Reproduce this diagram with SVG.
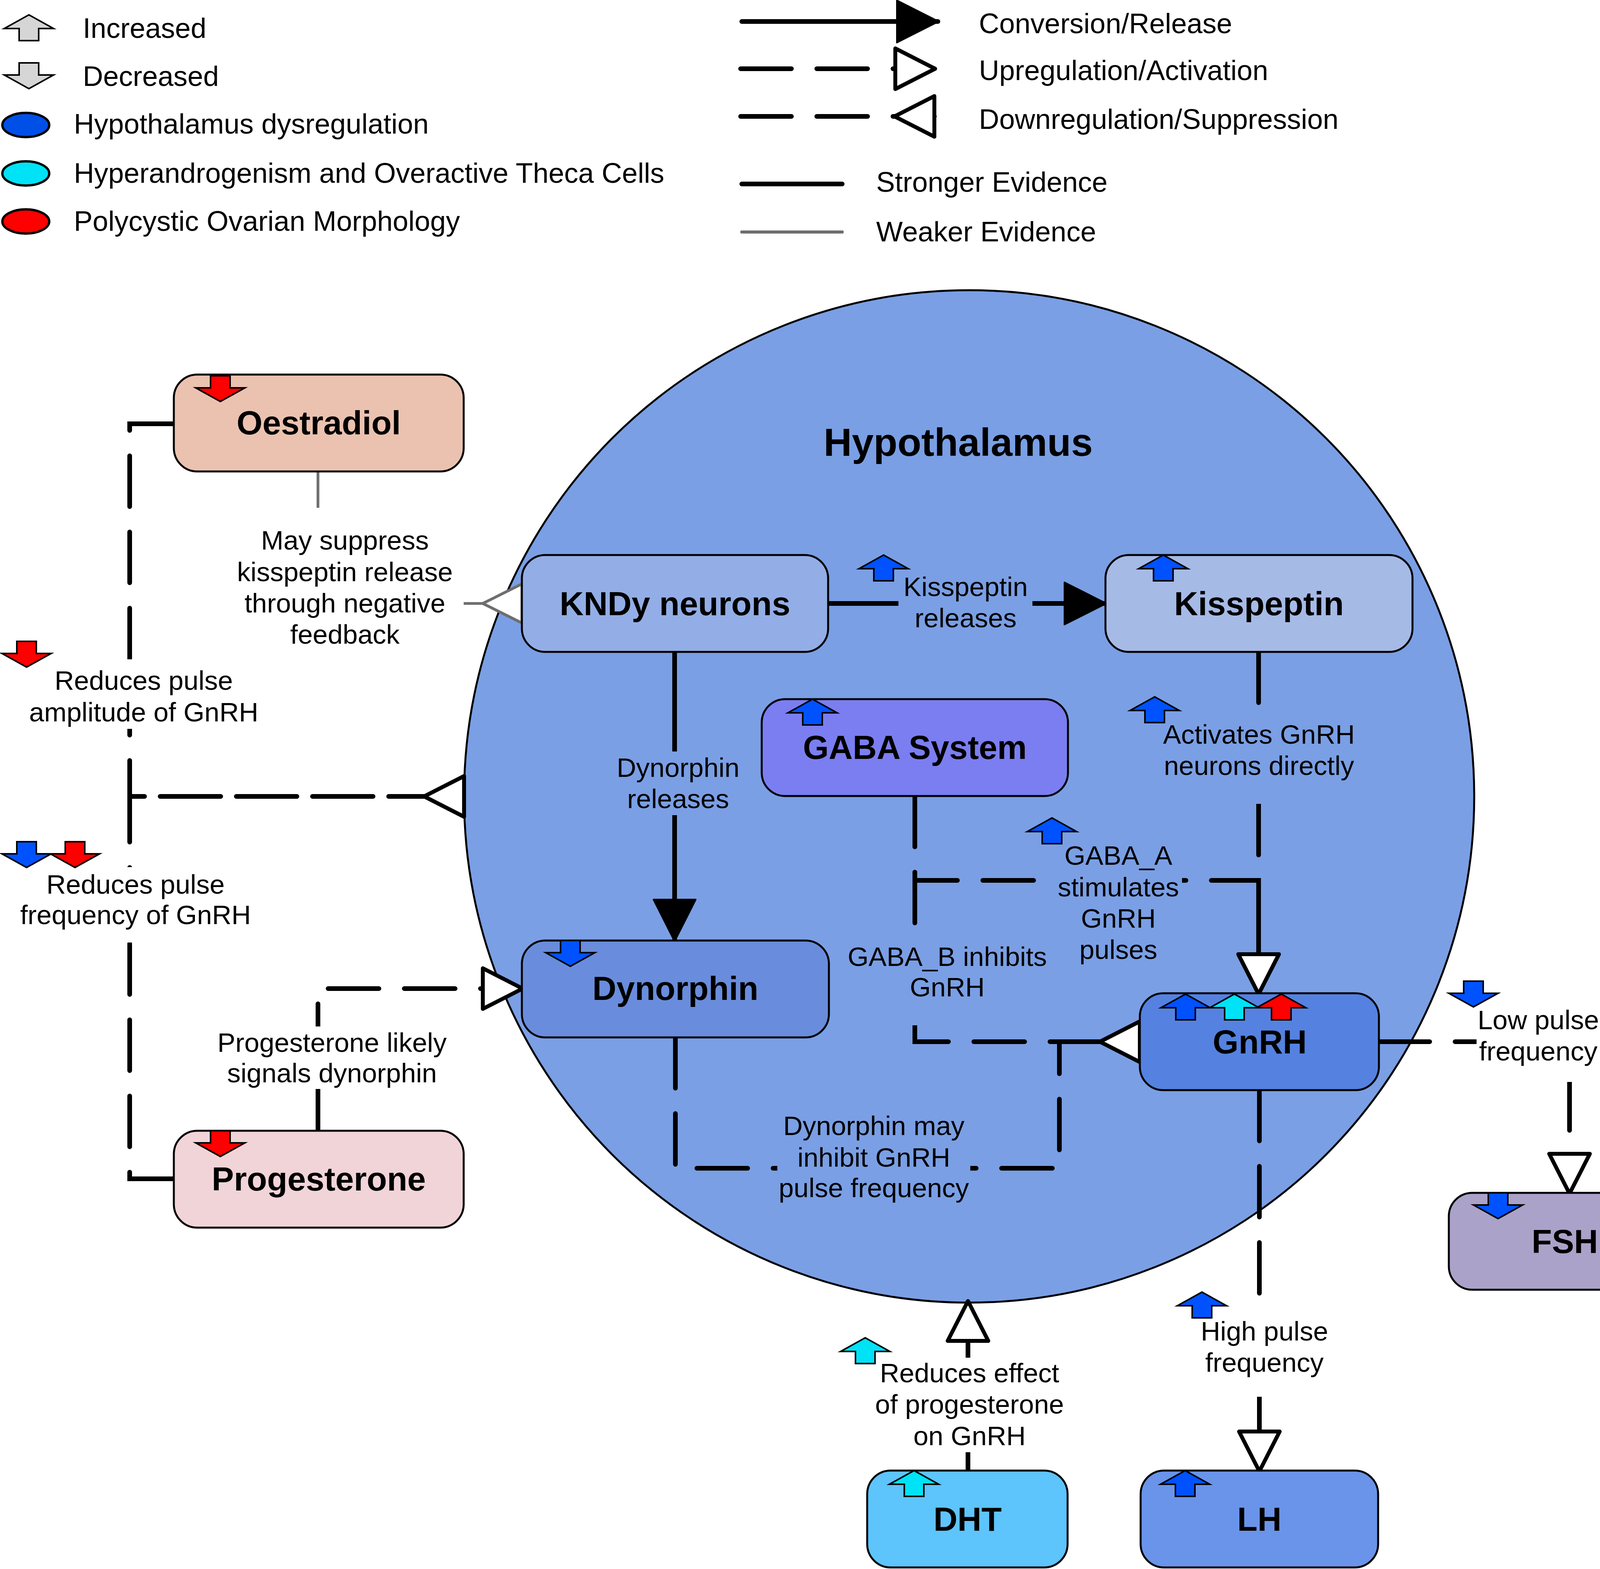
<svg xmlns="http://www.w3.org/2000/svg" width="4331" height="4017" viewBox="0 0 4331 4017">
<defs>
<style>
text{font-family:"Liberation Sans",Arial,sans-serif;fill:#000}
.leg{font-size:72px}
.lbl{font-size:69px;text-anchor:middle}
.nt{font-size:85px;font-weight:bold;text-anchor:middle}
.title{font-size:100px;font-weight:bold;text-anchor:middle}
.box{stroke:#000;stroke-width:5}
.ln{fill:none;stroke:#000;stroke-width:12;stroke-linecap:round;stroke-linejoin:miter}
.dash{stroke-dasharray:130 65}
.weak{fill:none;stroke:#6e6e6e;stroke-width:7}
.ind{stroke:#000;stroke-width:4;stroke-linejoin:miter}
.bgw{fill:#fff}
.bgc{fill:#7a9fe4}
.blue{fill:#0052ff}
.cyan{fill:#00e2f6}
.red{fill:#ff0000}
.grey{fill:#d6d6d6}
</style>
<path id="up" d="M0,0 L63,35 L25,35 L25,66 L-25,66 L-25,35 L-63,35 Z"/>
<path id="down" d="M-25,0 L25,0 L25,31 L63,31 L0,66 L-63,31 L-25,31 Z"/>
<marker id="mConv" markerUnits="userSpaceOnUse" markerWidth="110" markerHeight="110" refX="105" refY="54" orient="auto" overflow="visible">
<path d="M0,0 L107,54 L0,108 Z" fill="#000" stroke="#000" stroke-width="4" stroke-linejoin="round"/>
</marker>
<marker id="mAct" markerUnits="userSpaceOnUse" markerWidth="110" markerHeight="110" refX="100" refY="52" orient="auto" overflow="visible">
<path d="M0,0 L102,52 L0,104 Z" fill="#fff" stroke="#000" stroke-width="10" stroke-linejoin="round"/>
</marker>
<marker id="mSup" markerUnits="userSpaceOnUse" markerWidth="110" markerHeight="110" refX="102" refY="52" orient="auto" overflow="visible">
<path d="M102,0 L0,52 L102,104 Z" fill="#fff" stroke="#000" stroke-width="10" stroke-linejoin="round"/>
</marker>
<marker id="mSupG" markerUnits="userSpaceOnUse" markerWidth="110" markerHeight="110" refX="100" refY="50" orient="auto" overflow="visible">
<path d="M100,0 L0,50 L100,100 Z" fill="#fff" stroke="#6e6e6e" stroke-width="7" stroke-linejoin="round"/>
</marker>
</defs>
<rect x="0" y="0" width="4331" height="4017" fill="#fff"/>

<g id="legend">
<use href="#up" x="74" y="38" class="ind grey"/>
<text class="leg" x="212" y="97">Increased</text>
<use href="#down" x="74" y="161" class="ind grey"/>
<text class="leg" x="212" y="220">Decreased</text>
<ellipse cx="66" cy="320" rx="60" ry="31" fill="#0050e8" stroke="#000" stroke-width="6"/>
<text class="leg" x="189" y="342">Hypothalamus dysregulation</text>
<ellipse cx="66" cy="444" rx="60" ry="31" fill="#00e2f6" stroke="#000" stroke-width="6"/>
<text class="leg" x="189" y="468">Hyperandrogenism and Overactive Theca Cells</text>
<ellipse cx="66" cy="567" rx="60" ry="31" fill="#ff0000" stroke="#000" stroke-width="6"/>
<text class="leg" x="189" y="591">Polycystic Ovarian Morphology</text>
<path class="ln" d="M1899,55 L2401,55" marker-end="url(#mConv)"/>
<text class="leg" x="2506" y="85">Conversion/Release</text>
<path class="ln dash" d="M1896,176 L2392,176" marker-end="url(#mAct)"/>
<text class="leg" x="2506" y="205">Upregulation/Activation</text>
<path class="ln dash" d="M1896,298 L2392,298" marker-end="url(#mSup)"/>
<text class="leg" x="2506" y="330">Downregulation/Suppression</text>
<path class="ln" d="M1899,471 L2156,471"/>
<text class="leg" x="2243" y="491">Stronger Evidence</text>
<path d="M1899,594 L2156,594" stroke="#6e6e6e" stroke-width="8" stroke-linecap="round"/>
<text class="leg" x="2243" y="618">Weaker Evidence</text>
</g>

<g id="hypothalamus">
<ellipse cx="2481" cy="2039" rx="1293" ry="1296" fill="#7a9fe4" stroke="#000" stroke-width="5"/>
<text class="title" x="2453" y="1167">Hypothalamus</text>
</g>

<g id="connectors">
<path class="ln" d="M2120,1545 L2830,1545" marker-end="url(#mConv)"/>
<path class="ln" d="M1727,1669 L1727,2408" marker-end="url(#mConv)"/>
<path class="ln dash" d="M3222,1669 L3222,2543" marker-end="url(#mAct)"/>
<path class="ln dash" d="M2342,2038 L2342,2254 L3222,2254 L3222,2543" marker-end="url(#mAct)"/>
<path class="ln dash" d="M2342,2038 L2342,2667 L2918,2667" marker-end="url(#mSup)"/>
<path class="ln dash" d="M1729,2656 L1729,2991 L2712,2991 L2712,2667 L2918,2667" marker-end="url(#mSup)"/>
<path class="ln dash" d="M3530,2667 L4018,2667 L4018,3054" marker-end="url(#mAct)"/>
<path class="ln dash" d="M3224,2791 L3224,3765" marker-end="url(#mAct)"/>
<path class="ln dash" d="M2478,3765 L2478,3333" marker-end="url(#mAct)"/>
<path class="ln dash" d="M814,2895 L814,2531 L1336,2531" marker-end="url(#mAct)"/>
<path class="ln dash" d="M445,1085 L332,1085 L332,2039 L1188,2039" marker-end="url(#mSup)"/>
<path class="ln dash" d="M445,3018 L332,3018 L332,2039 L1188,2039" marker-end="url(#mSup)"/>
<path class="weak" d="M814,1207 L814,1545 L1336,1545" marker-end="url(#mSupG)"/>
</g>

<g id="labels">
<g id="lbl-oest-kndy">
<rect class="bgw" x="600" y="1300" width="587" height="368"/>
<text class="lbl" x="883"><tspan x="883" y="1407">May suppress</tspan><tspan x="883" y="1488">kisspeptin release</tspan><tspan x="883" y="1568">through negative</tspan><tspan x="883" y="1648">feedback</tspan></text>
</g>
<g id="lbl-amplitude">
<rect class="bgw" x="70" y="1688" width="600" height="178"/>
<use href="#down" x="68" y="1642" class="ind red"/>
<text class="lbl" x="368"><tspan x="368" y="1766">Reduces pulse</tspan><tspan x="368" y="1847">amplitude of GnRH</tspan></text>
</g>
<g id="lbl-frequency">
<rect class="bgw" x="45" y="2220" width="605" height="193"/>
<use href="#down" x="68" y="2155" class="ind blue"/>
<use href="#down" x="192" y="2155" class="ind red"/>
<text class="lbl" x="347"><tspan x="347" y="2288">Reduces pulse</tspan><tspan x="347" y="2366">frequency of GnRH</tspan></text>
</g>
<g id="lbl-prog-dyn">
<rect class="bgw" x="550" y="2628" width="600" height="160"/>
<text class="lbl" x="850"><tspan x="850" y="2693">Progesterone likely</tspan><tspan x="850" y="2771">signals dynorphin</tspan></text>
</g>
<g id="lbl-kiss">
<rect class="bgc" x="2300" y="1465" width="343" height="160"/>
<use href="#up" x="2262" y="1421" class="ind blue"/>
<text class="lbl" x="2472"><tspan x="2472" y="1526">Kisspeptin</tspan><tspan x="2472" y="1606">releases</tspan></text>
</g>
<g id="lbl-dyn-rel">
<rect class="bgc" x="1570" y="1924" width="330" height="163"/>
<text class="lbl" x="1736"><tspan x="1736" y="1989">Dynorphin</tspan><tspan x="1736" y="2069">releases</tspan></text>
</g>
<g id="lbl-activates">
<rect class="bgc" x="2970" y="1807" width="505" height="251"/>
<use href="#up" x="2956" y="1784" class="ind blue"/>
<text class="lbl" x="3223"><tspan x="3223" y="1904">Activates GnRH</tspan><tspan x="3223" y="1984">neurons directly</tspan></text>
</g>
<g id="lbl-gabaa">
<rect class="bgc" x="2700" y="2160" width="326" height="315"/>
<use href="#up" x="2693" y="2094" class="ind blue"/>
<text class="lbl" x="2863"><tspan x="2863" y="2214">GABA_A</tspan><tspan x="2863" y="2295">stimulates</tspan><tspan x="2863" y="2375">GnRH</tspan><tspan x="2863" y="2455">pulses</tspan></text>
</g>
<g id="lbl-gabab">
<rect class="bgc" x="2170" y="2372" width="510" height="253"/>
<text class="lbl" x="2425"><tspan x="2425" y="2473">GABA_B inhibits</tspan><tspan x="2425" y="2551">GnRH</tspan></text>
</g>
<g id="lbl-dyn-gnrh">
<rect class="bgc" x="1990" y="2850" width="494" height="230"/>
<text class="lbl" x="2237"><tspan x="2237" y="2906">Dynorphin may</tspan><tspan x="2237" y="2987">inhibit GnRH</tspan><tspan x="2237" y="3065">pulse frequency</tspan></text>
</g>
<g id="lbl-low">
<rect class="bgw" x="3780" y="2570" width="316" height="200"/>
<use href="#down" x="3772" y="2512" class="ind blue"/>
<text class="lbl" x="3938"><tspan x="3938" y="2635">Low pulse</tspan><tspan x="3938" y="2715">frequency</tspan></text>
</g>
<g id="lbl-high">
<rect class="bgw" x="3065" y="3322" width="345" height="254"/>
<use href="#up" x="3077" y="3308" class="ind blue"/>
<text class="lbl" x="3237"><tspan x="3237" y="3432">High pulse</tspan><tspan x="3237" y="3512">frequency</tspan></text>
</g>
<g id="lbl-dht">
<rect class="bgw" x="2228" y="3476" width="505" height="242"/>
<use href="#up" x="2215" y="3425" class="ind cyan"/>
<text class="lbl" x="2482"><tspan x="2482" y="3539">Reduces effect</tspan><tspan x="2482" y="3619">of progesterone</tspan><tspan x="2482" y="3700">on GnRH</tspan></text>
</g>
</g>

<g id="node-oestradiol">
<rect class="box" x="445" y="959" width="742" height="248" rx="60" fill="#ebc2b0"/>
<use href="#down" x="564" y="962" class="ind red"/>
<text class="nt" x="816" y="1112">Oestradiol</text>
</g>
<g id="node-progesterone">
<rect class="box" x="445" y="2895" width="742" height="248" rx="60" fill="#f1d4d8"/>
<use href="#down" x="564" y="2895" class="ind red"/>
<text class="nt" x="816" y="3048">Progesterone</text>
</g>
<g id="node-kndy">
<rect class="box" x="1336" y="1421" width="784" height="248" rx="60" fill="#93aee6"/>
<text class="nt" x="1728" y="1575">KNDy neurons</text>
</g>
<g id="node-kisspeptin">
<rect class="box" x="2830" y="1421" width="786" height="248" rx="60" fill="#a6bae6"/>
<use href="#up" x="2978" y="1421" class="ind blue"/>
<text class="nt" x="3223" y="1575">Kisspeptin</text>
</g>
<g id="node-gaba">
<rect class="box" x="1950" y="1790" width="784" height="248" rx="60" fill="#7b7ef0"/>
<use href="#up" x="2080" y="1790" class="ind blue"/>
<text class="nt" x="2342" y="1943">GABA System</text>
</g>
<g id="node-dynorphin">
<rect class="box" x="1336" y="2408" width="786" height="248" rx="60" fill="#698ddc"/>
<use href="#down" x="1460" y="2408" class="ind blue"/>
<text class="nt" x="1729" y="2560">Dynorphin</text>
</g>
<g id="node-gnrh">
<rect class="box" x="2918" y="2543" width="612" height="248" rx="60" fill="#5582e0"/>
<use href="#up" x="3035" y="2545" class="ind blue"/>
<use href="#up" x="3160" y="2545" class="ind cyan"/>
<use href="#up" x="3280" y="2545" class="ind red"/>
<text class="nt" x="3225" y="2697">GnRH</text>
</g>
<g id="node-fsh">
<rect class="box" x="3709" y="3054" width="617" height="248" rx="60" fill="#aba2ca"/>
<use href="#down" x="3835" y="3054" class="ind blue"/>
<text class="nt" x="4006" y="3208">FSH</text>
</g>
<g id="node-dht">
<rect class="box" x="2220" y="3765" width="513" height="248" rx="60" fill="#5dc4fc"/>
<use href="#up" x="2340" y="3765" class="ind cyan"/>
<text class="nt" x="2477" y="3919">DHT</text>
</g>
<g id="node-lh">
<rect class="box" x="2920" y="3765" width="608" height="248" rx="60" fill="#6a94e9"/>
<use href="#up" x="3034" y="3765" class="ind blue"/>
<text class="nt" x="3224" y="3919">LH</text>
</g>
</svg>
